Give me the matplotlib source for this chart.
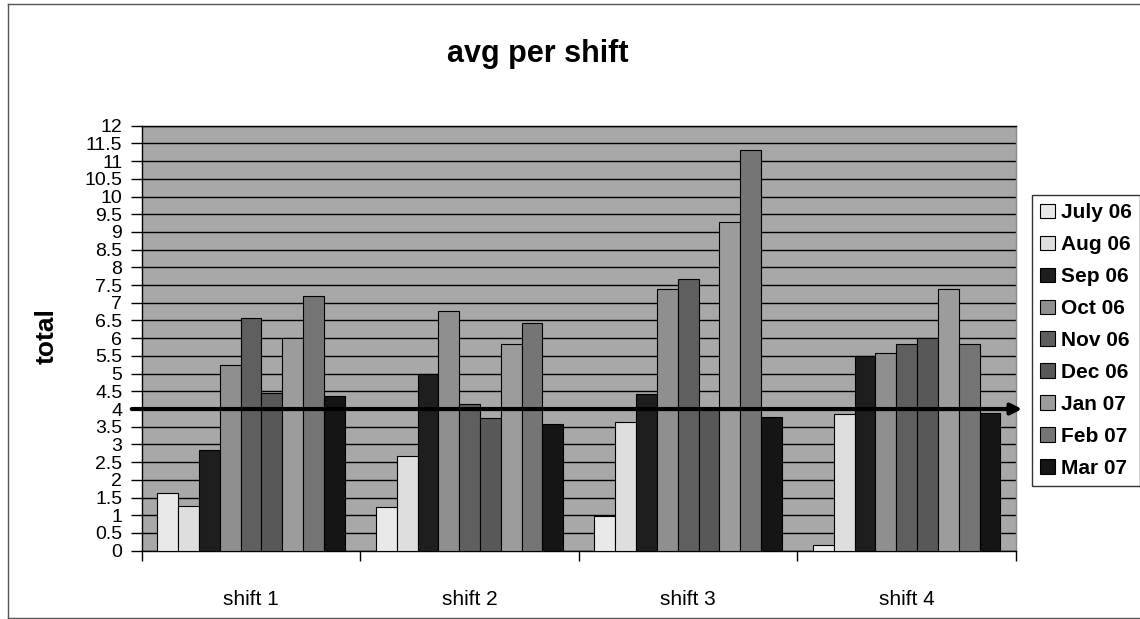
import matplotlib
matplotlib.use("Agg")
import matplotlib.pyplot as plt
import numpy as np
from matplotlib.lines import Line2D

plt.rcParams['font.family'] = ['Liberation Sans', 'DejaVu Sans']

shifts = ["shift 1", "shift 2", "shift 3", "shift 4"]
months = ["July 06", "Aug 06", "Sep 06", "Oct 06", "Nov 06",
          "Dec 06", "Jan 07", "Feb 07", "Mar 07"]
july06 = [1.62, 1.24, 0.98, 0.16]
aug06 = [1.26, 2.66, 3.64, 3.86]
sep06 = [2.84, 4.99, 4.43, 5.51]
oct06 = [5.25, 6.77, 7.38, 5.59]
nov06 = [6.56, 4.14, 7.68, 5.83]
dec06 = [4.45, 3.74, 4.00, 6.00]
jan07 = [6.00, 5.83, 9.28, 7.39]
feb07 = [7.20, 6.42, 11.32, 5.83]
mar07 = [4.38, 3.58, 3.77, 3.88]
target = 4
yticks = np.arange(0, 12.01, 0.5)
ytick_labels = ["0", "0.5", "1", "1.5", "2", "2.5", "3", "3.5", "4", "4.5",
                "5", "5.5", "6", "6.5", "7", "7.5", "8", "8.5", "9", "9.5",
                "10", "10.5", "11", "11.5", "12"]

series = [july06, aug06, sep06, oct06, nov06, dec06, jan07, feb07, mar07]
colors = ["#e9e9e9", "#dedede", "#1e1e1e", "#8f8f8f", "#5f5f5f",
          "#585858", "#9c9c9c", "#757575", "#151515"]

fig = plt.figure(figsize=(11.4, 6.19), dpi=100)
ax = fig.add_axes([141.7 / 1140, (619 - 550.7) / 619, (1016 - 141.7) / 1140, 425 / 619])
ax.set_facecolor("#a8a8a8")

x = np.arange(len(shifts))
w = 1 / 10.5
for j, (vals, c, lab) in enumerate(zip(series, colors, months)):
    ax.bar(x + (j - 4) * w, vals, width=w, color=c, edgecolor="black",
           linewidth=0.8, label=lab, zorder=3)

ax.set_xlim(-0.5, 3.5)
ax.set_ylim(0, 12)
ax.set_yticks(yticks)
ax.set_yticklabels(ytick_labels, fontsize=14)
ax.yaxis.grid(True, color="black", linewidth=1.0, zorder=1)
ax.set_axisbelow(True)
ax.tick_params(axis="y", length=8, width=1, pad=6, direction="out")

ax.set_xticks(x)
ax.set_xticklabels(shifts, fontsize=15)
ax.set_xticks(np.arange(-0.5, 3.6, 1), minor=True)
ax.tick_params(axis="x", which="major", length=0, pad=28)
ax.tick_params(axis="x", which="minor", length=7, width=1, direction="out")

for s in ["left", "bottom", "top"]:
    ax.spines[s].set_color("black")
    ax.spines[s].set_linewidth(1)
ax.spines["right"].set_color("#888888")
ax.spines["right"].set_linewidth(1)

# target line with arrow
ax.annotate("", xy=(1.007, target), xytext=(-0.0114, target),
            xycoords=("axes fraction", "data"), textcoords=("axes fraction", "data"),
            arrowprops=dict(arrowstyle="-|>", lw=3, color="black",
                            mutation_scale=16, shrinkA=0, shrinkB=0),
            annotation_clip=False, zorder=5)

fig.text(538 / 1140, (619 - 62) / 619, "avg per shift", ha="center", va="baseline",
         fontsize=22, fontweight="bold")
fig.text(47 / 1140, (619 - 336) / 619, "total", ha="center", va="center",
         rotation=90, fontsize=19, fontweight="bold")

leg = fig.legend(loc="upper left", bbox_to_anchor=(1032 / 1140, (619 - 195) / 619),
                 bbox_transform=fig.transFigure, frameon=True, fancybox=False,
                 prop={"size": 15, "weight": "bold"}, labelspacing=0.62,
                 handlelength=0.7, handleheight=0.7, handletextpad=0.3,
                 borderpad=0.4, borderaxespad=0)
leg.get_frame().set_edgecolor("black")
leg.get_frame().set_linewidth(1)

# outer chart frame
fig.add_artist(Line2D([8 / 1140, 8 / 1140], [1 / 619, 615 / 619], transform=fig.transFigure,
                      color="#555555", lw=1))
fig.add_artist(Line2D([8 / 1140, 1], [615 / 619, 615 / 619], transform=fig.transFigure,
                      color="#555555", lw=1))
fig.add_artist(Line2D([8 / 1140, 1], [1.5 / 619, 1.5 / 619], transform=fig.transFigure,
                      color="#555555", lw=1))

fig.savefig("out.png", dpi=100)
